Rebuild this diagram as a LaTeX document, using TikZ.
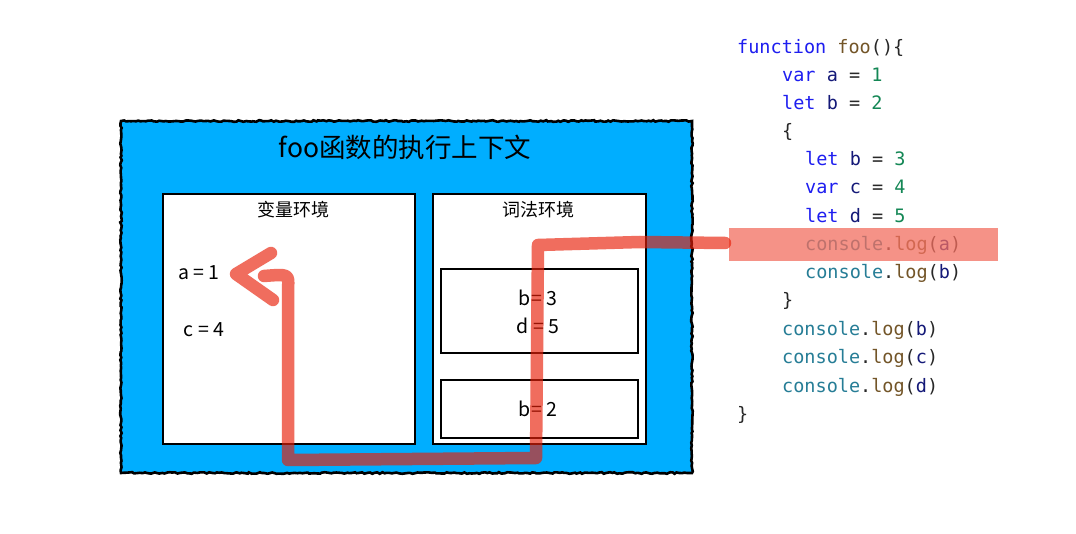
\documentclass[tikz,border=0pt]{standalone}
\usepackage{fontspec}
\newfontfamily\cjk{Noto Sans CJK SC}
\setmonofont{DejaVu Sans Mono}
\usetikzlibrary{decorations.pathmorphing}
\definecolor{ctxblue}{RGB}{0,174,255}
\definecolor{kwc}{RGB}{30,30,240}
\definecolor{idc}{RGB}{20,25,120}
\definecolor{numc}{RGB}{20,135,85}
\definecolor{fnc}{RGB}{115,85,40}
\definecolor{conc}{RGB}{38,125,150}
\definecolor{punc}{RGB}{40,40,40}
\definecolor{hlc}{RGB}{242,110,95}
\definecolor{penc}{RGB}{232,31,8}
\newcommand\ckw[1]{\textcolor{kwc}{#1}}
\newcommand\cid[1]{\textcolor{idc}{#1}}
\newcommand\cnum[1]{\textcolor{numc}{#1}}
\newcommand\cfn[1]{\textcolor{fnc}{#1}}
\newcommand\ccon[1]{\textcolor{conc}{#1}}
\tikzset{
  codeline/.style={anchor=base west, inner sep=0pt, font=\fontsize{18.5}{20}\ttfamily, text=punc},
  envbox/.style={draw=black, line width=1.8pt, fill=white},
  innerbox/.style={draw=black, line width=1.6pt, fill=white},
  lbl/.style={inner sep=0pt, font=\cjk\fontsize{19.5}{22}\selectfont},
  envtitle/.style={inner sep=0pt, font=\cjk\fontsize{18}{20}\selectfont},
  pen/.style={draw=penc, draw opacity=0.65, line width=12.5pt, line cap=round, line join=round}
}
\begin{document}
\begin{tikzpicture}[x=1pt,y=-1pt]
\useasboundingbox (0,0) rectangle (1076,534);
\fill[white] (0,0) rectangle (1076,534);
% outer context box
\fill[ctxblue] (121,121) rectangle (692,473);
\draw[line width=2.6pt, decorate, decoration={random steps, segment length=2.5pt, amplitude=0.8pt}] (121,121) -- (692,121) -- (692,473) -- (121,473) -- cycle;
\node[inner sep=0pt, font=\cjk\fontsize{26.5}{30}\selectfont] (title) at (405,147) {foo函数的执行上下文};
% environments
\node[envbox, minimum width=252pt, minimum height=250pt, anchor=north west] (varenv) at (162,193) {};
\node[envbox, minimum width=213pt, minimum height=250pt, anchor=north west] (lexenv) at (432,193) {};
\node[envtitle] (vartitle) at (293,210) {变量环境};
\node[envtitle] (lextitle) at (538,210) {词法环境};
\node[innerbox, minimum width=197pt, minimum height=84pt, anchor=north west] (blk) at (440,268) {};
\node[innerbox, minimum width=197pt, minimum height=58pt, anchor=north west] (fnblk) at (440,379) {};
\node[lbl] (va) at (199,273) {a = 1};
\node[lbl] (vc) at (204,330) {c = 4};
\node[lbl] (lb3) at (538,298) {b= 3};
\node[lbl] (ld5) at (538,326) {d = 5};
\node[lbl] (lb2) at (538,409) {b= 2};
% code
\node[codeline] (c1) at (737,54) {\ckw{function} \cfn{foo}()\{};
\node[codeline] (c2) at (782,82) {\ckw{var} \cid{a} = \cnum{1}};
\node[codeline] (c3) at (782,110) {\ckw{let} \cid{b} = \cnum{2}};
\node[codeline] (c4) at (782,138) {\{};
\node[codeline] (c5) at (805,166) {\ckw{let} \cid{b} = \cnum{3}};
\node[codeline] (c6) at (805,194) {\ckw{var} \cid{c} = \cnum{4}};
\node[codeline] (c7) at (805,223) {\ckw{let} \cid{d} = \cnum{5}};
\node[codeline] (c8) at (805,251) {\ccon{console}.\cfn{log}(\cid{a})};
\node[codeline] (c9) at (805,279) {\ccon{console}.\cfn{log}(\cid{b})};
\node[codeline] (c10) at (782,307) {\}};
\node[codeline] (c11) at (782,336) {\ccon{console}.\cfn{log}(\cid{b})};
\node[codeline] (c12) at (782,364) {\ccon{console}.\cfn{log}(\cid{c})};
\node[codeline] (c13) at (782,392) {\ccon{console}.\cfn{log}(\cid{d})};
\node[codeline] (c14) at (737,420) {\}};
% highlight
\fill[hlc, opacity=0.75] (729,228) rectangle (998,261);
% pen stroke
\coordinate (p0) at (725,243);
\coordinate (p1) at (640,242);
\coordinate (p2) at (538,245);
\coordinate (p3) at (536,458);
\coordinate (p4) at (288,460);
\coordinate (p5) at (288,288);
\coordinate (p6) at (264,276);
\coordinate (h1) at (271,253);
\coordinate (tip) at (236,274);
\coordinate (h2) at (273,300);
\path[pen] (p0) -- (p1) -- (p2) -- (p3) -- (p4) -- (p5) .. controls (289,274) .. (p6)
  (h1) -- (tip) -- (h2);
\end{tikzpicture}
\end{document}
